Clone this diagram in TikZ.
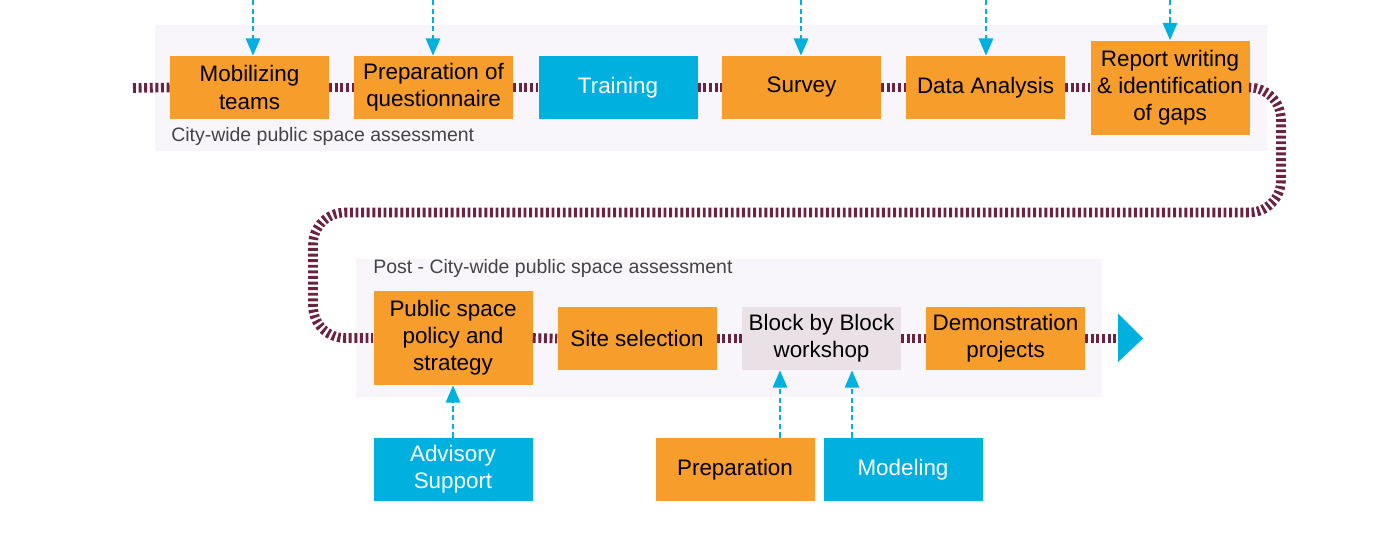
\documentclass[tikz,border=0pt]{standalone}
\usepackage{fontspec}
\setmainfont{Liberation Sans}
\usetikzlibrary{arrows.meta}
\definecolor{boxorange}{HTML}{F79D2B}
\definecolor{boxcyan}{HTML}{00B1E0}
\definecolor{flowmaroon}{HTML}{6C2341}
\definecolor{panelbg}{HTML}{F8F6FA}
\definecolor{workshopbg}{HTML}{E9E1E6}
\definecolor{labelgray}{HTML}{444444}
\tikzset{
  stage/.style={rectangle, inner sep=0pt, minimum width=119.25pt, minimum height=47.25pt,
    font=\fontsize{16.8}{20.3}\selectfont, align=center},
  orangebox/.style={stage, fill=boxorange, text=black},
  cyanbox/.style={stage, fill=boxcyan, text=white},
  greybox/.style={stage, fill=workshopbg, text=black},
  tallbox/.style={minimum height=70.5pt},
  flow/.style={draw=flowmaroon, line width=7.2pt, dash pattern=on 2.2pt off 2pt},
  feed/.style={draw=boxcyan, line width=2.2pt, dash pattern=on 4pt off 2.5pt,
    -{Triangle[width=10.5pt,length=13pt]}},
  panel/.style={fill=panelbg, draw=none},
  panellabel/.style={anchor=west, inner sep=0pt, text=labelgray, font=\fontsize{14.6}{17}\selectfont}
}
\begin{document}
\begin{tikzpicture}[x=0.75pt,y=-0.75pt]
\useasboundingbox (0,0) rectangle (1376,554);

% background panels
\fill[panel] (155,25) rectangle (1267,151);
\fill[panel] (356,259) rectangle (1102,397);
\node[panellabel] (toplabel) at (171,136.5) {City-wide public space assessment};
\node[panellabel] (botlabel) at (373,268) {Post - City-wide public space assessment};

% first phase
\coordinate (start) at (133,88);
\node[orangebox] (mob) at (249.5,87.5) {Mobilizing\\teams};
\node[orangebox] (prep) at (433.5,87.5) {Preparation of\\questionnaire};
\node[cyanbox] (train) at (618,87.5) {Training};
\node[orangebox] (survey) at (801.5,87.5) {Survey};
\node[orangebox] (data) at (985.5,87.5) {Data Analysis};
\node[orangebox, tallbox] (report) at (1170,87.5) {Report writing\\\& identification\\of gaps};

% second phase
\node[orangebox, tallbox] (policy) at (453,338) {Public space\\policy and\\strategy};
\node[orangebox] (site) at (637,338.5) {Site selection};
\node[greybox] (block) at (821.5,338.5) {Block by Block\\workshop};
\node[orangebox] (demo) at (1005.5,338.5) {Demonstration\\projects};
\coordinate (tipback) at (1118,338.5);

% supporting inputs
\node[cyanbox] (advisory) at (453,469.5) {Advisory\\Support};
\node[orangebox] (prepws) at (735,469.5) {Preparation};
\node[cyanbox] (model) at (903,469.5) {Modeling};

% main flow
\draw[flow] (start) -- (mob.west);
\draw[flow] (mob.east) -- (prep.west);
\draw[flow] (prep.east) -- (train.west);
\draw[flow] (train.east) -- (survey.west);
\draw[flow] (survey.east) -- (data.west);
\draw[flow] (data.east) -- (report.west);
\draw[flow, rounded corners=24pt] (report.east) -- (1281,87.5) -- (1281,212.5) -- (313,212.5) -- (313,338) -- (policy.west);
\draw[flow] (policy.east) -- (site.west);
\draw[flow] (site.east) -- (block.west);
\draw[flow] (block.east) -- (demo.west);
\draw[flow] (demo.east) -- (tipback);
\fill[boxcyan] (tipback) ++(0,-25) -- (1143,338.5) -- (1118,362) -- cycle;

% incoming inputs from above
\coordinate (in1) at (253,0);
\coordinate (in2) at (433,0);
\coordinate (in3) at (801,0);
\coordinate (in4) at (986,0);
\coordinate (in5) at (1170,0);
\draw[feed] (in1) -- (mob.north -| in1);
\draw[feed] (in2) -- (prep.north -| in2);
\draw[feed] (in3) -- (survey.north -| in3);
\draw[feed] (in4) -- (data.north -| in4);
\draw[feed] (in5) -- (report.north -| in5);

% inputs from below
\draw[feed] (advisory.north) -- (policy.south);
\draw[feed] (prepws.north -| 780,0) -- (block.south -| 780,0);
\draw[feed] (model.north -| 852,0) -- (block.south -| 852,0);
\end{tikzpicture}
\end{document}
